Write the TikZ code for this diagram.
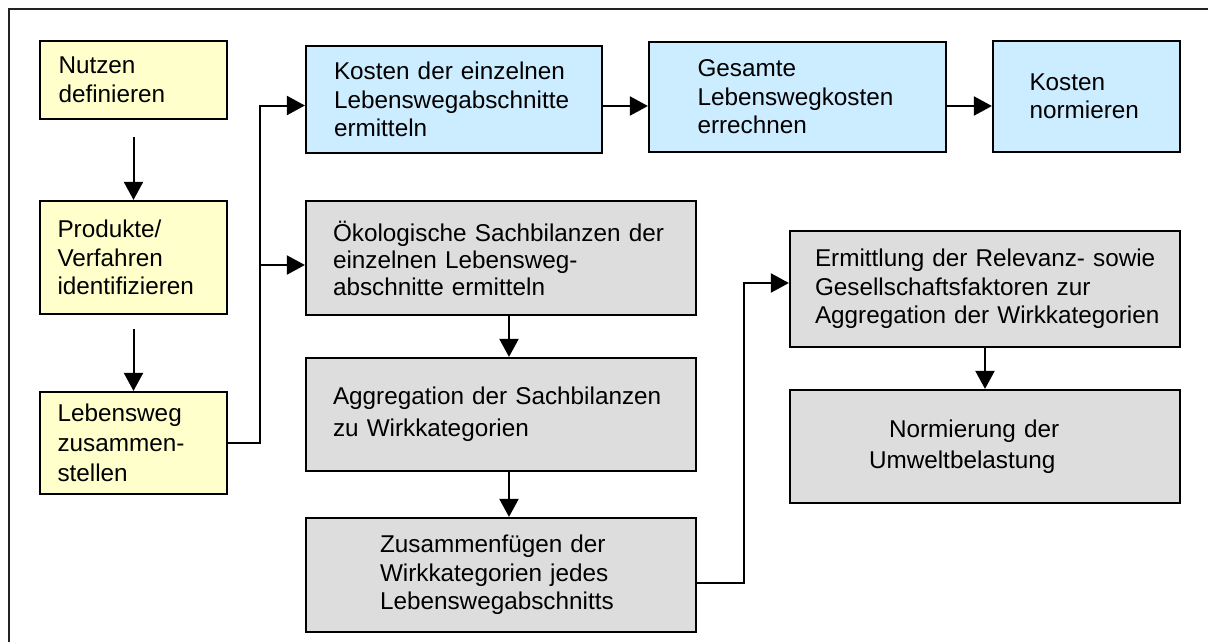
\documentclass[tikz,border=0pt]{standalone}
\usepackage{fontspec}
\setmainfont{Liberation Sans}
\usetikzlibrary{positioning, arrows.meta, calc}
\definecolor{StepYellow}{RGB}{255,255,204}
\definecolor{CostBlue}{RGB}{204,236,255}
\definecolor{EcoGrey}{RGB}{221,221,221}
\definecolor{FrameColor}{RGB}{34,34,34}
\tikzstyle{arrow} = [line width=2pt, -{Triangle[length=18pt,width=19pt]}]
\tikzstyle{stepbox} = [rectangle, draw, line width=2.2pt, inner sep=0pt, align=left, font=\fontsize{24.3}{28.5}\selectfont]

\begin{document}
\begin{tikzpicture}[x=1pt, y=-1pt]
% Frame
\clip (0,0) rectangle (1208,641);
\draw[line width=2pt, FrameColor] (9,9) rectangle (1240,680);

% Left column
\node[stepbox, fill=StepYellow, minimum width=187pt, minimum height=78pt, text width=150pt] (nutzen) at (133.5,80) {Nutzen\\definieren};
\node[stepbox, fill=StepYellow, minimum width=187pt, minimum height=113pt, text width=152pt] (produkte) at (133.5,257.5) {Produkte/\\Verfahren\\identifizieren};
\node[stepbox, fill=StepYellow, minimum width=187pt, minimum height=102pt, text width=152pt] (lebensweg) at (133.5,443) {Lebensweg\\[1.5pt]zusammen-\\[1.5pt]stellen};

% Cost path
\node[stepbox, fill=CostBlue, minimum width=296pt, minimum height=107pt, text width=240pt] (kosten) at (454,99.5) {Kosten der einzelnen\\Lebenswegabschnitte\\ermitteln};
\node[stepbox, fill=CostBlue, minimum width=297pt, minimum height=110pt, text width=200pt] (gesamt) at (797.5,97) {Gesamte\\Lebenswegkosten\\errechnen};
\node[stepbox, fill=CostBlue, minimum width=187pt, minimum height=111pt, text width=114pt] (normkosten) at (1086.5,96.5) {Kosten\\normieren};

% Ecological path
\node[stepbox, fill=EcoGrey, minimum width=390pt, minimum height=114pt, text width=336pt] (oeko) at (501,258) {Ökologische Sachbilanzen der\\[-1.5pt]einzelnen Lebensweg-\\[-1.5pt]abschnitte ermitteln};
\node[stepbox, fill=EcoGrey, minimum width=390pt, minimum height=113pt, text width=336pt] (aggregation) at (501,414.5) {Aggregation der Sachbilanzen\\[3.5pt]zu Wirkkategorien};
\node[stepbox, fill=EcoGrey, minimum width=390pt, minimum height=114pt, text width=242pt] (zusammen) at (501,575) {Zusammenfügen der\\Wirkkategorien jedes\\Lebenswegabschnitts};
\node[stepbox, fill=EcoGrey, minimum width=390pt, minimum height=116pt, text width=340pt] (ermittlung) at (985,289) {\mbox{Ermittlung der Relevanz- sowie}\\Gesellschaftsfaktoren zur\\\mbox{Aggregation der Wirkkategorien}};
\node[stepbox, fill=EcoGrey, minimum width=390pt, minimum height=113pt, text width=232pt] (umwelt) at (985,446.5) {\hspace*{20pt}Normierung der\\[3pt]Umweltbelastung};

% Arrows
\draw[arrow, shorten <=17pt] (nutzen) -- (produkte);
\draw[arrow, shorten <=14pt] (produkte) -- (lebensweg);
\draw[arrow] (lebensweg.east) -- ++(32,0) |- ([yshift=-6pt]kosten.west);
\draw[arrow] (lebensweg.east) -- ++(32,0) |- ([yshift=-7pt]oeko.west);
\draw[arrow] ([yshift=-6.5pt]kosten.east) -- ([yshift=-6.5pt]kosten.east -| gesamt.west);
\draw[arrow] ([yshift=-6.5pt]kosten.east -| gesamt.east) -- ([yshift=-6.5pt]kosten.east -| normkosten.west);
\draw[arrow] ([xshift=8pt]oeko.south) -- ([xshift=8pt]aggregation.north);
\draw[arrow] ([xshift=8pt]aggregation.south) -- ([xshift=8pt]zusammen.north);
\draw[arrow] ([yshift=-8pt]zusammen.east) -- ++(47,0) |- ([yshift=6pt]ermittlung.west);
\draw[arrow] (ermittlung) -- (umwelt);
\end{tikzpicture}
\end{document}
